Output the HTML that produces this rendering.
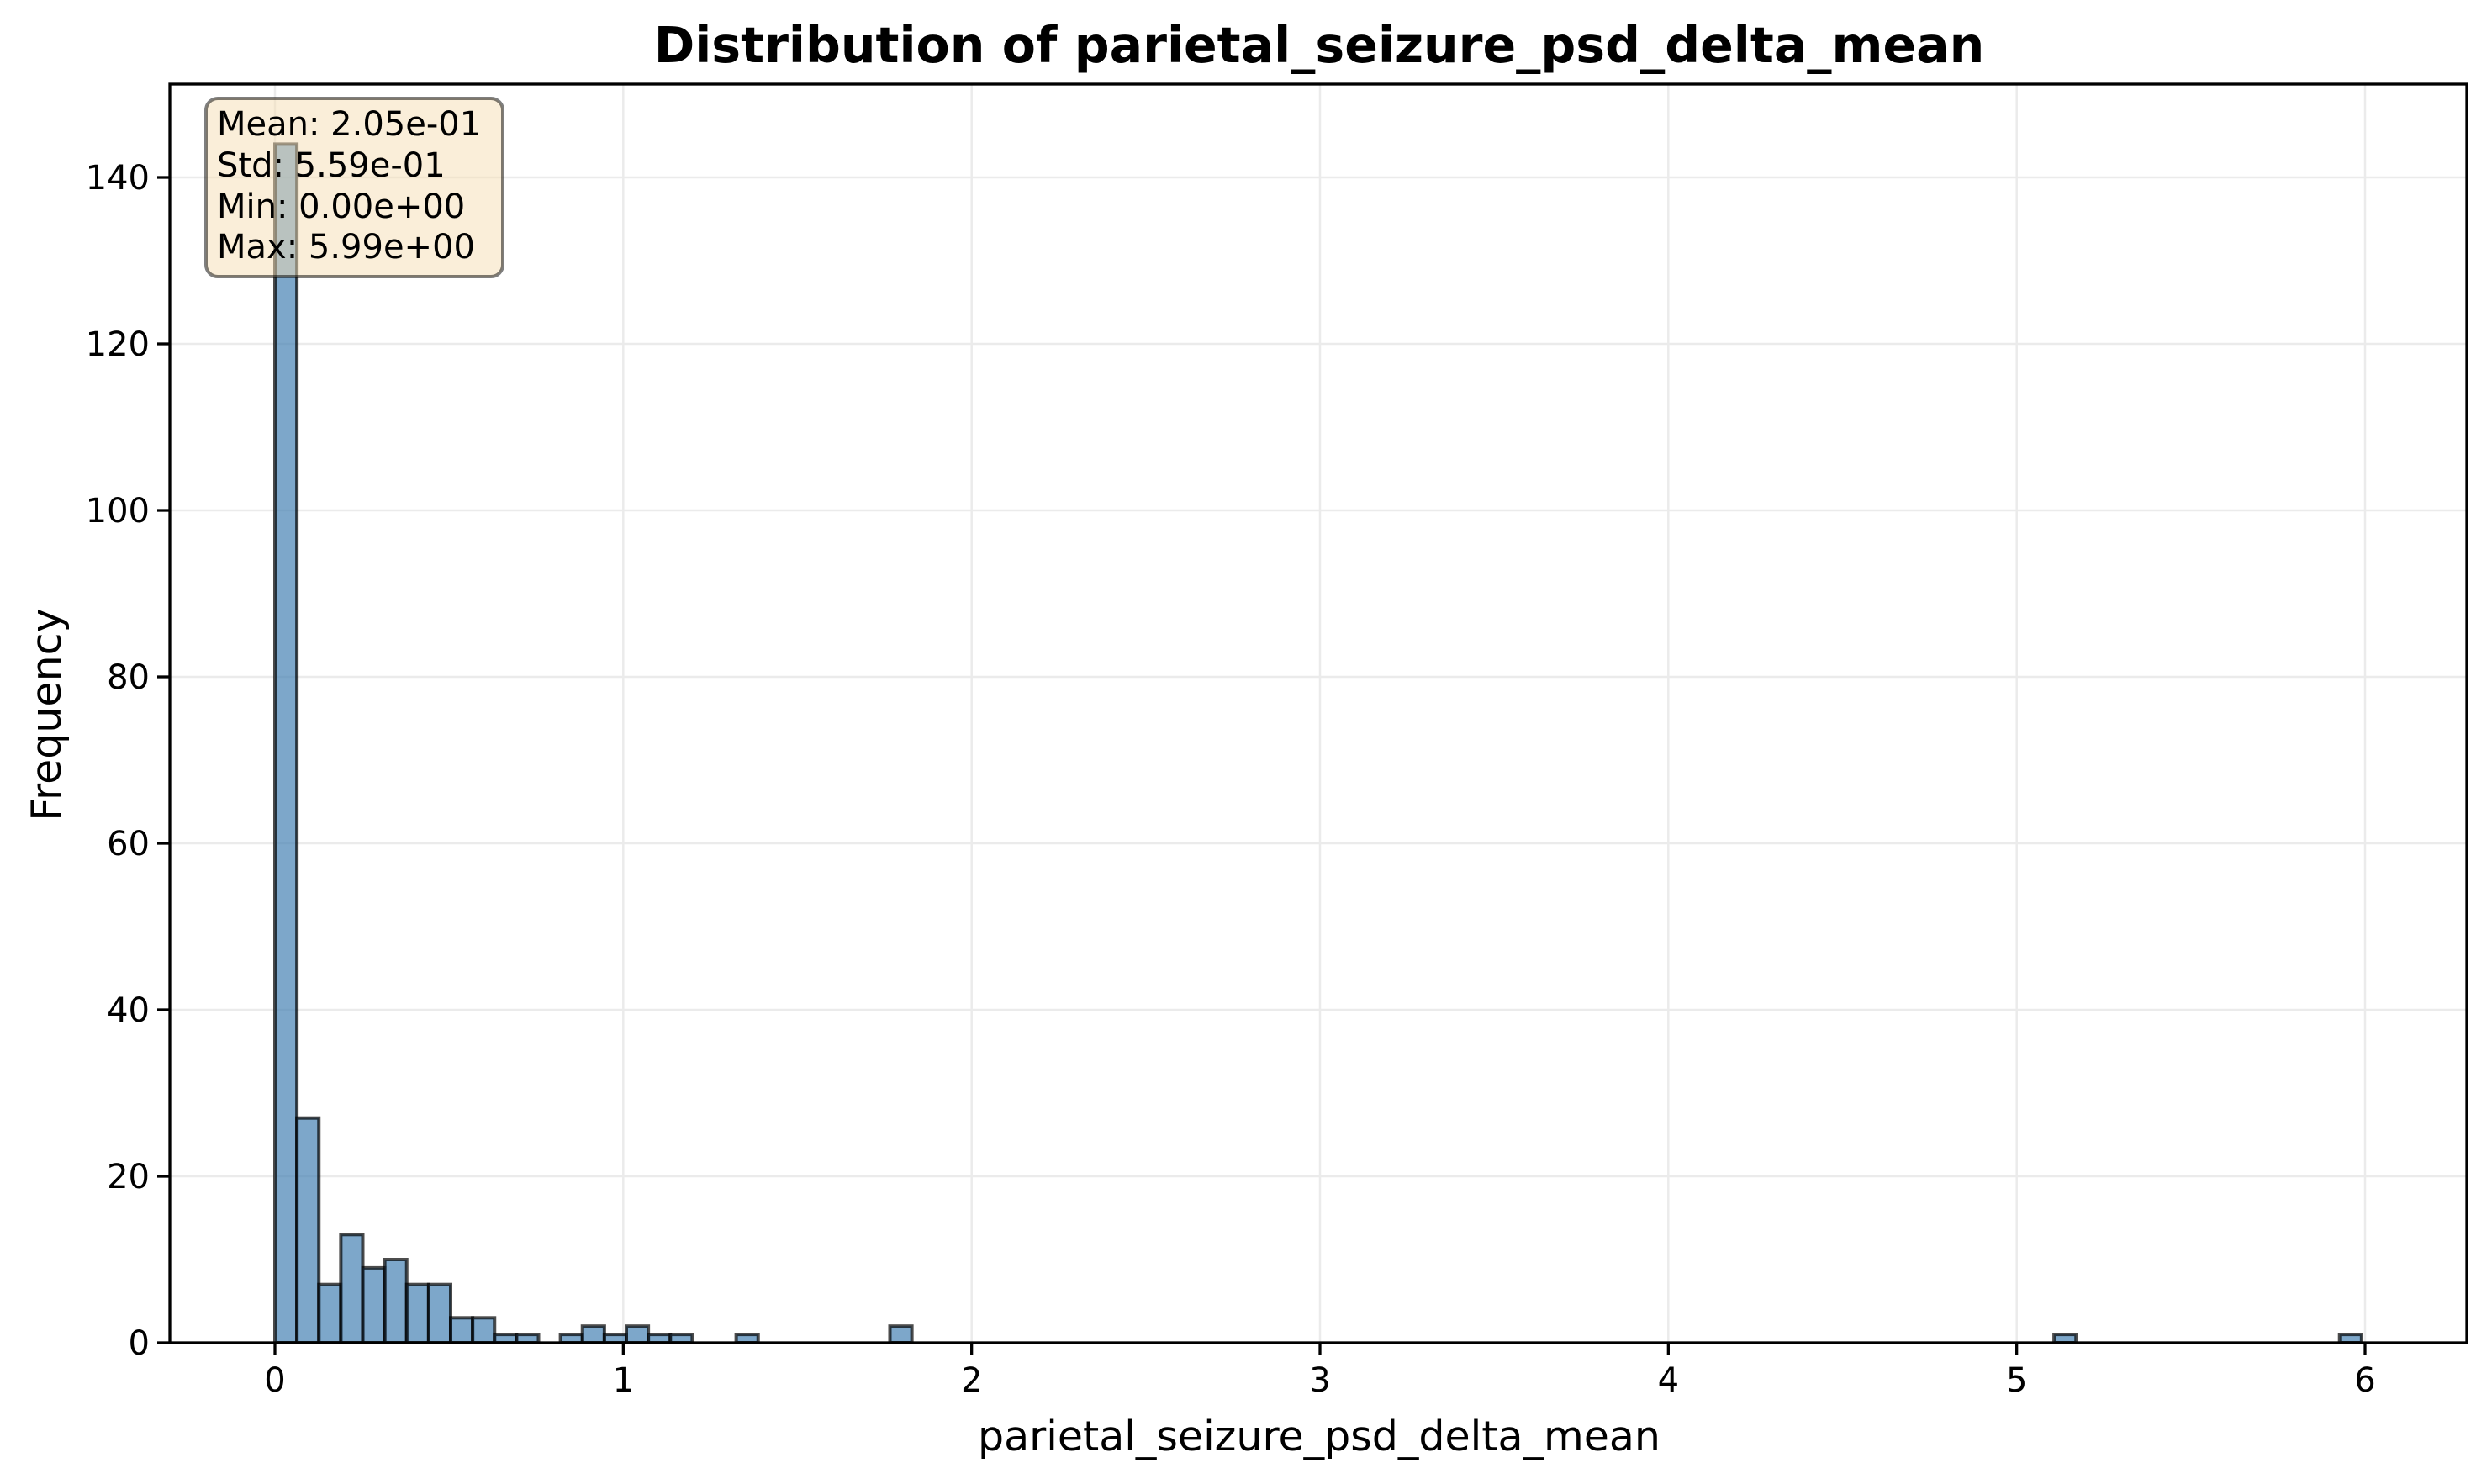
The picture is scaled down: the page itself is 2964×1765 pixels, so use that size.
<!DOCTYPE html>
<html><head><meta charset="utf-8"><style>
html,body{margin:0;padding:0;background:#fff;}
svg{display:block;font-family:"DejaVu Sans","Liberation Sans",sans-serif;}
</style></head><body>
<svg id="chart" width="2964" height="1765" viewBox="0 0 2964 1765" xmlns="http://www.w3.org/2000/svg">
<rect x="0" y="0" width="2964" height="1765" fill="#fff"/>
<g id="grid"></g>
<g id="bars"></g>
<g id="axes"></g>
<text x="1569" y="74" text-anchor="middle" font-size="58.5" font-weight="bold">Distribution of parietal_seizure_psd_delta_mean</text>
<text x="1569" y="1725" text-anchor="middle" font-size="49">parietal_seizure_psd_delta_mean</text>
<text x="0" y="0" transform="translate(72,850) rotate(-90)" text-anchor="middle" font-size="49">Frequency</text>
<g>
<rect x="245" y="117" width="353" height="212" rx="14" fill="#f5deb3" fill-opacity="0.5" stroke="#000" stroke-opacity="0.5" stroke-width="4"/>
<text x="258" y="161" font-size="40">Mean: 2.05e-01</text>
<text x="258" y="210" font-size="40">Std: 5.59e-01</text>
<text x="258" y="259" font-size="40">Min: 0.00e+00</text>
<text x="258" y="307" font-size="40">Max: 5.99e+00</text>
</g>
</svg>
<script>
const binStart = 0;
const binWidth = 5.99 / 95;
const binIndices = [0,1,2,3,4,5,6,7,8,9,10,11,13,14,15,16,17,18,21,28,81,94];
const binCounts = [144,27,7,13,9,10,7,7,3,3,1,1,1,2,1,2,1,1,1,2,1,1];
const xTicks = [0,1,2,3,4,5,6];
const yTicks = [0,20,40,60,80,100,120,140];

const L=202, R=2934, T=100, B=1597;
const X0=327, XU=(2813-327)/6;
const YU=(1597-211)/140;
function sx(v){return X0+v*XU;}
function sy(v){return B-v*YU;}
const NS="http://www.w3.org/2000/svg";
function mk(tag,attrs,parent){const e=document.createElementNS(NS,tag);for(const k in attrs)e.setAttribute(k,attrs[k]);parent.appendChild(e);return e;}
const grid=document.getElementById('grid'), bars=document.getElementById('bars'), axes=document.getElementById('axes');

xTicks.forEach(t=>{
  const g=mk('line',{x1:sx(t),x2:sx(t),y1:T,y2:B,stroke:'#ebebeb','stroke-width':2.5},grid);
  
  
});
yTicks.forEach(t=>{
  const g=mk('line',{x1:L,x2:R,y1:sy(t),y2:sy(t),stroke:'#ebebeb','stroke-width':2.5},grid);
  
  
});
binIndices.forEach((idx,i)=>{
  const x1=sx(binStart+idx*binWidth), x2=sx(binStart+(idx+1)*binWidth);
  const r=mk('rect',{x:x1,y:sy(binCounts[i]),width:x2-x1,height:sy(0)-sy(binCounts[i]),fill:'#4682b4','fill-opacity':0.7,stroke:'#000','stroke-opacity':0.7,'stroke-width':4},bars);
  
  
});
const frame=mk('rect',{x:L,y:T,width:R-L,height:B-T,fill:'none',stroke:'#000','stroke-width':3.3},axes);


xTicks.forEach(t=>{
  const tk=mk('line',{x1:sx(t),x2:sx(t),y1:B,y2:B+15,stroke:'#000','stroke-width':3.3},axes);
  
  
  const lb=mk('text',{x:sx(t),y:B+58,'text-anchor':'middle','font-size':40},axes);
  lb.textContent=String(t);
  
  
});
yTicks.forEach(t=>{
  const tk=mk('line',{x1:L-15,x2:L,y1:sy(t),y2:sy(t),stroke:'#000','stroke-width':3.3},axes);
  
  
  const lb=mk('text',{x:L-24,y:sy(t)+14,'text-anchor':'end','font-size':40},axes);
  lb.textContent=String(t);
  
  
});
</script>
</body></html>
